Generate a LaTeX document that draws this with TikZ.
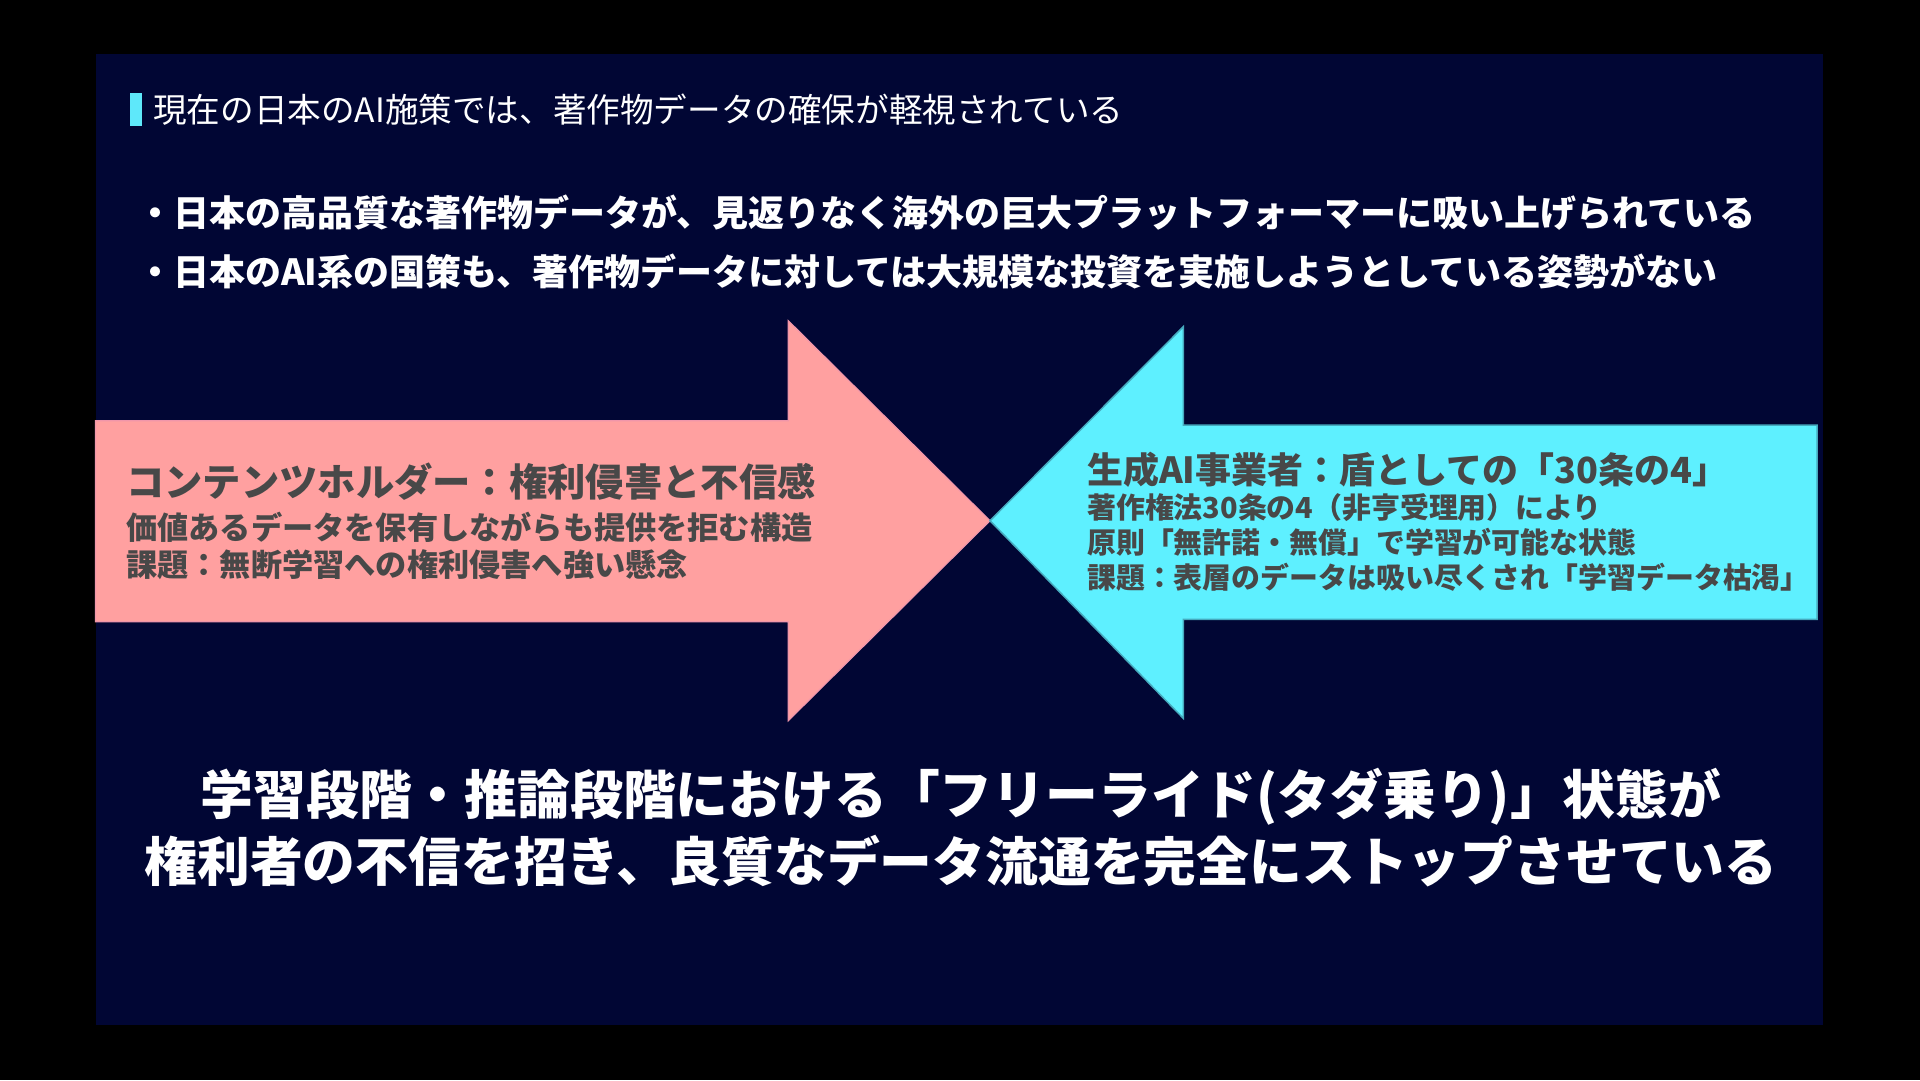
\documentclass[tikz,border=0pt]{standalone}
\usepackage{fontspec}
\setmainfont{Noto Sans CJK JP}
\definecolor{bgpanel}{RGB}{1,6,52}
\definecolor{pinkar}{RGB}{255,160,160}
\definecolor{pinkedge}{RGB}{240,150,170}
\definecolor{cyanar}{RGB}{94,240,255}
\definecolor{cyanedge}{RGB}{70,170,190}
\definecolor{textgray}{RGB}{72,72,72}
\definecolor{accent}{RGB}{94,232,250}
\begin{document}
\begin{tikzpicture}[x=1pt,y=-1pt,
  txt/.style={inner sep=0pt, anchor=west, text=white},
  headtxt/.style={txt, font=\fontsize{33.6}{40}\selectfont},
  bullettxt/.style={txt, font=\fontsize{36}{42}\selectfont\bfseries},
  pinktitle/.style={txt, text=textgray, font=\fontsize{38.3}{44}\selectfont\bfseries},
  pinkline/.style={txt, text=textgray, font=\fontsize{31.2}{36}\selectfont\bfseries},
  cyantitle/.style={txt, text=textgray, font=\fontsize{36}{42}\selectfont\bfseries},
  cyanline/.style={txt, text=textgray, font=\fontsize{28.9}{34}\selectfont\bfseries},
  bottomtxt/.style={inner sep=0pt, anchor=center, text=white, font=\fontsize{52.8}{60}\selectfont\bfseries}]
\useasboundingbox (0,0) rectangle (1920,1080);
\fill[black] (0,0) rectangle (1920,1080);
\fill[bgpanel] (95.5,54) rectangle (1823,1025);
\fill[accent] (130,93) rectangle (142,126);
% arrows
\filldraw[fill=pinkar, draw=pinkedge, line width=1.2pt]
  (95.5,420.7) -- (788.3,420.7) -- (788.3,320.7) -- (990,520.7) -- (788.3,720.7) -- (788.3,621.7) -- (95.5,621.7) -- cycle;
\filldraw[fill=cyanar, draw=cyanedge, line width=1.5pt]
  (990,520.7) -- (1183.3,326.7) -- (1183.3,425) -- (1817,425) -- (1817,619.3) -- (1183.3,619.3) -- (1183.3,718.3) -- cycle;
% texts
\node[headtxt] (head) at (153,110) {現在の日本のAI施策では、著作物データの確保が軽視されている};
\node[bullettxt] (b1) at (137,213) {・日本の高品質な著作物データが、見返りなく海外の巨大プラットフォーマーに吸い上げられている};
\node[bullettxt] (b2) at (137,271) {・日本のAI系の国策も、著作物データに対しては大規模な投資を実施しようとしている姿勢がない};
\node[pinktitle] (p1) at (126,482) {コンテンツホルダー：権利侵害と不信感};
\node[pinkline] (p2) at (126,527) {価値あるデータを保有しながらも提供を拒む構造};
\node[pinkline] (p3) at (126,565) {課題：無断学習への権利侵害へ強い懸念};
\node[cyantitle] (c1) at (1087,470) {生成AI事業者：盾としての「30条の4」};
\node[cyanline] (c2) at (1087,508) {著作権法30条の4（非亨受理用）により};
\node[cyanline] (c3) at (1087,542) {原則「無許諾・無償」で学習が可能な状態};
\node[cyanline] (c4) at (1087,577) {課題：表層のデータは吸い尽くされ「学習データ枯渇」};
\node[bottomtxt] (m1) at (961,797) {学習段階・推論段階における「フリーライド(タダ乗り)」状態が};
\node[bottomtxt] (m2) at (961,861) {権利者の不信を招き、良質なデータ流通を完全にストップさせている};
\end{tikzpicture}
\end{document}
